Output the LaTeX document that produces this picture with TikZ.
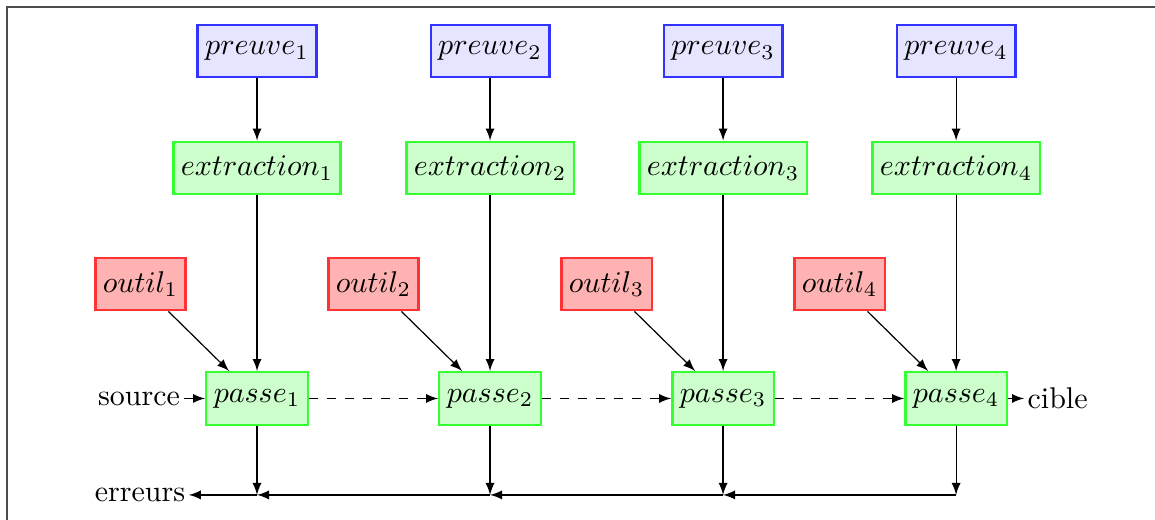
\documentclass[tikz,border=0pt]{standalone}
\usepackage{amsmath}
\usepackage{amssymb}
\usetikzlibrary{positioning}

\begin{document}
\begin{tikzpicture}[>=latex, shorten >=0pt, node distance=2.73cm, on grid, auto,
	boite/.style={draw, thick, inner xsep=2.5pt, minimum height=17.5pt},
	preuvebox/.style={boite, draw=blue!80, fill=blue!10},
	extrbox/.style={boite, draw=green!80, fill=green!20},
	outilbox/.style={boite, draw=red!80, fill=red!30},
	passebox/.style={boite, draw=green!80, fill=green!20},
	bout/.style={inner sep=1pt}]
	
	\useasboundingbox (-3.011,-1.423) rectangle (10.520,4.668);
	\draw[black!70, line width=0.6pt] (-2.929,4.586) rectangle (11,-2);
	
	% les passes
	\node[passebox] (p_1) {$passe_1$};
	\node[passebox] (p_2) [right=of p_1] {$passe_2$};
	\node[passebox] (p_3) [right=of p_2] {$passe_3$};
	\node[passebox] (p_4) [right=of p_3] {$passe_4$};
	
	% extractions et preuves
	\node[extrbox] (x_1) [above=2.70cm of p_1] {$extraction_1$};
	\node[extrbox] (x_2) [above=2.70cm of p_2] {$extraction_2$};
	\node[extrbox] (x_3) [above=2.70cm of p_3] {$extraction_3$};
	\node[extrbox] (x_4) [above=2.70cm of p_4] {$extraction_4$};
	\node[preuvebox] (pr_1) [above=1.371cm of x_1] {$preuve_1$};
	\node[preuvebox] (pr_2) [above=1.371cm of x_2] {$preuve_2$};
	\node[preuvebox] (pr_3) [above=1.371cm of x_3] {$preuve_3$};
	\node[preuvebox] (pr_4) [above=1.371cm of x_4] {$preuve_4$};
	
	% outils
	\node[outilbox] (o_1) [above left=1.341cm and 1.365cm of p_1] {$outil_1$};
	\node[outilbox] (o_2) [above left=1.341cm and 1.365cm of p_2] {$outil_2$};
	\node[outilbox] (o_3) [above left=1.341cm and 1.365cm of p_3] {$outil_3$};
	\node[outilbox] (o_4) [above left=1.341cm and 1.365cm of p_4] {$outil_4$};
	
	% erreurs
	\coordinate[below=1.13cm of p_1] (e_1);
	\coordinate[below=1.13cm of p_2] (e_2);
	\coordinate[below=1.13cm of p_3] (e_3);
	\coordinate[below=1.13cm of p_4] (e_4);
	
	\node[bout] (src) [left=1.382cm of p_1] {source};
	\node[bout] (cib) [right=1.189cm of p_4] {cible};
	\node[bout] (err) [below left=1.13cm and 1.371cm of p_1] {erreurs};
	
	\path[->]
	(pr_1) edge (x_1)
	(pr_2) edge (x_2)
	(pr_3) edge (x_3)
	(pr_4) edge (x_4)
	(x_1) edge (p_1)
	(x_2) edge (p_2)
	(x_3) edge (p_3)
	(x_4) edge (p_4)
	(o_1) edge (p_1)
	(o_2) edge (p_2)
	(o_3) edge (p_3)
	(o_4) edge (p_4)
	(src) edge (p_1)
	(p_1) edge [dashed] (p_2)
	(p_2) edge [dashed] (p_3)
	(p_3) edge [dashed] (p_4)
	(p_4) edge (cib)
	(p_1) edge (e_1)
	(p_2) edge (e_2)
	(p_3) edge (e_3)
	(p_4) edge (e_4)
	(e_4) edge (e_3)
	(e_3) edge (e_2)
	(e_2) edge (e_1)
	(e_1) edge (err);
	
\end{tikzpicture}
\end{document}
